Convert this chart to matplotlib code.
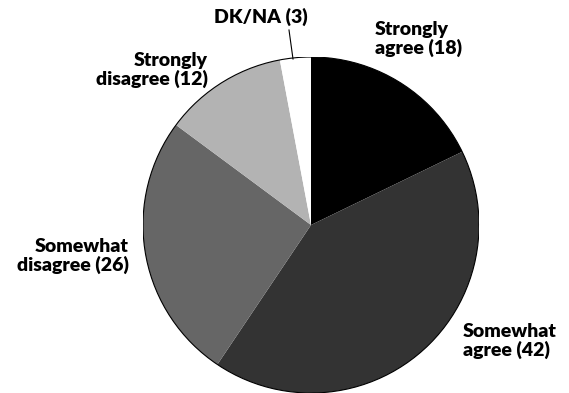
import matplotlib
matplotlib.use("Agg")
import matplotlib.pyplot as plt

# Survey response shares (percent)
labels = ["Strongly\nagree (18)", "Somewhat\nagree (42)", "Somewhat\ndisagree (26)",
          "Strongly\ndisagree (12)", "DK/NA (3)"]
values = [18, 42, 26, 12, 3]
colors = ["#000000", "#333333", "#666666", "#b3b3b3", "#ffffff"]

W, H = 569, 393
fig = plt.figure(figsize=(W / 100, H / 100), dpi=100)
# pie occupies a 336 px square, centre at (311, 225) px
ax = fig.add_axes([143 / W, 0 / H, 336 / W, 336 / H])
ax.pie(values, colors=colors, startangle=90, counterclock=False,
       wedgeprops=dict(linewidth=0))
ax.add_patch(plt.Circle((0, 0), 1, fill=False, edgecolor="black", linewidth=0.8))
ax.set_xlim(-1, 1)
ax.set_ylim(-1, 1)
ax.set_aspect("equal")
ax.axis("off")

font = dict(family="Lato", fontweight="heavy", fontsize=14, color="black",
            linespacing=1.05)

def px(x, y):
    return x / W, 1 - y / H

fig.text(*px(375, 39), labels[0], ha="left", va="center", **font)
fig.text(*px(463, 341), labels[1], ha="left", va="center", **font)
fig.text(*px(129, 256), labels[2], ha="right", va="center", **font)
fig.text(*px(208, 70), labels[3], ha="right", va="center", **font)
fig.text(*px(308, 17), labels[4], ha="right", va="center", **font)

# leader line for DK/NA
x0, y0 = px(289, 30)
x1, y1 = px(293, 59)
fig.add_artist(plt.Line2D([x0, x1], [y0, y1], color="black", linewidth=0.8))

fig.savefig("out.png", dpi=100)
